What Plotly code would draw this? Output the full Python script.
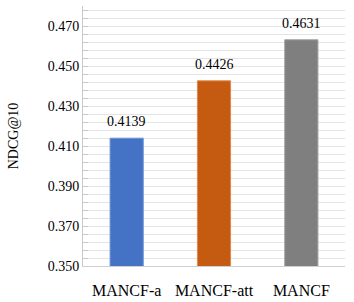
import plotly.graph_objects as go

categories = ["MANCF-a", "MANCF-att", "MANCF"]
ndcg_values = [0.4139, 0.4426, 0.4631]
value_labels = ["0.4139", "0.4426", "0.4631"]
bar_colors = ["#4472C4", "#C55A11", "#7F7F7F"]
line_colors = ["#6F93D6", "#E08A4E", "#A0A0A0"]
tick_vals = [0.350, 0.370, 0.390, 0.410, 0.430, 0.450, 0.470]
tick_text = ["0.350", "0.370", "0.390", "0.410", "0.430", "0.450", "0.470"]

FONT = "Liberation Serif"

fig = go.Figure(go.Bar(
    x=categories,
    y=ndcg_values,
    marker=dict(color=bar_colors, line=dict(color=line_colors, width=1)),
    width=0.38,
    hoverinfo="skip",
))

for cat, val, lab in zip(categories, ndcg_values, value_labels):
    fig.add_annotation(x=cat, y=val, text=lab, showarrow=False,
                       yanchor="bottom", yshift=7,
                       font=dict(family=FONT, size=14, color="#000000"))

fig.update_layout(
    width=354, height=302,
    margin=dict(l=83, r=9, t=6, b=36),
    paper_bgcolor="white", plot_bgcolor="white",
    font=dict(family=FONT, size=14, color="#000000"),
    showlegend=False,
)
fig.update_xaxes(
    automargin=False,
    showline=True, linecolor="#D0D0D0", linewidth=1,
    showgrid=False, ticks="", ticklabelstandoff=10,
    tickfont=dict(family=FONT, size=16, color="#000000"),
)
fig.update_yaxes(
    automargin=False,
    range=[0.35, 0.48],
    tickvals=tick_vals, ticktext=tick_text,
    showline=True, linecolor="#C8C8C8", linewidth=1,
    showgrid=True, gridcolor="#E4E4E4", gridwidth=1,
    ticks="inside", ticklen=5, tickcolor="#C8C8C8",
    ticklabelstandoff=0,
    tickfont=dict(family=FONT, size=14, color="#000000"),
    minor=dict(dtick=0.004, tick0=0.35, showgrid=True, gridcolor="#E4E4E4",
               ticks="inside", ticklen=5, tickcolor="#C8C8C8"),
    title=dict(text="NDCG@10", font=dict(family=FONT, size=14, color="#000000"), standoff=25),
    zeroline=False,
)

fig.write_html("out.html", config={"displayModeBar": False},
               post_script="document.body.style.margin='0';")
